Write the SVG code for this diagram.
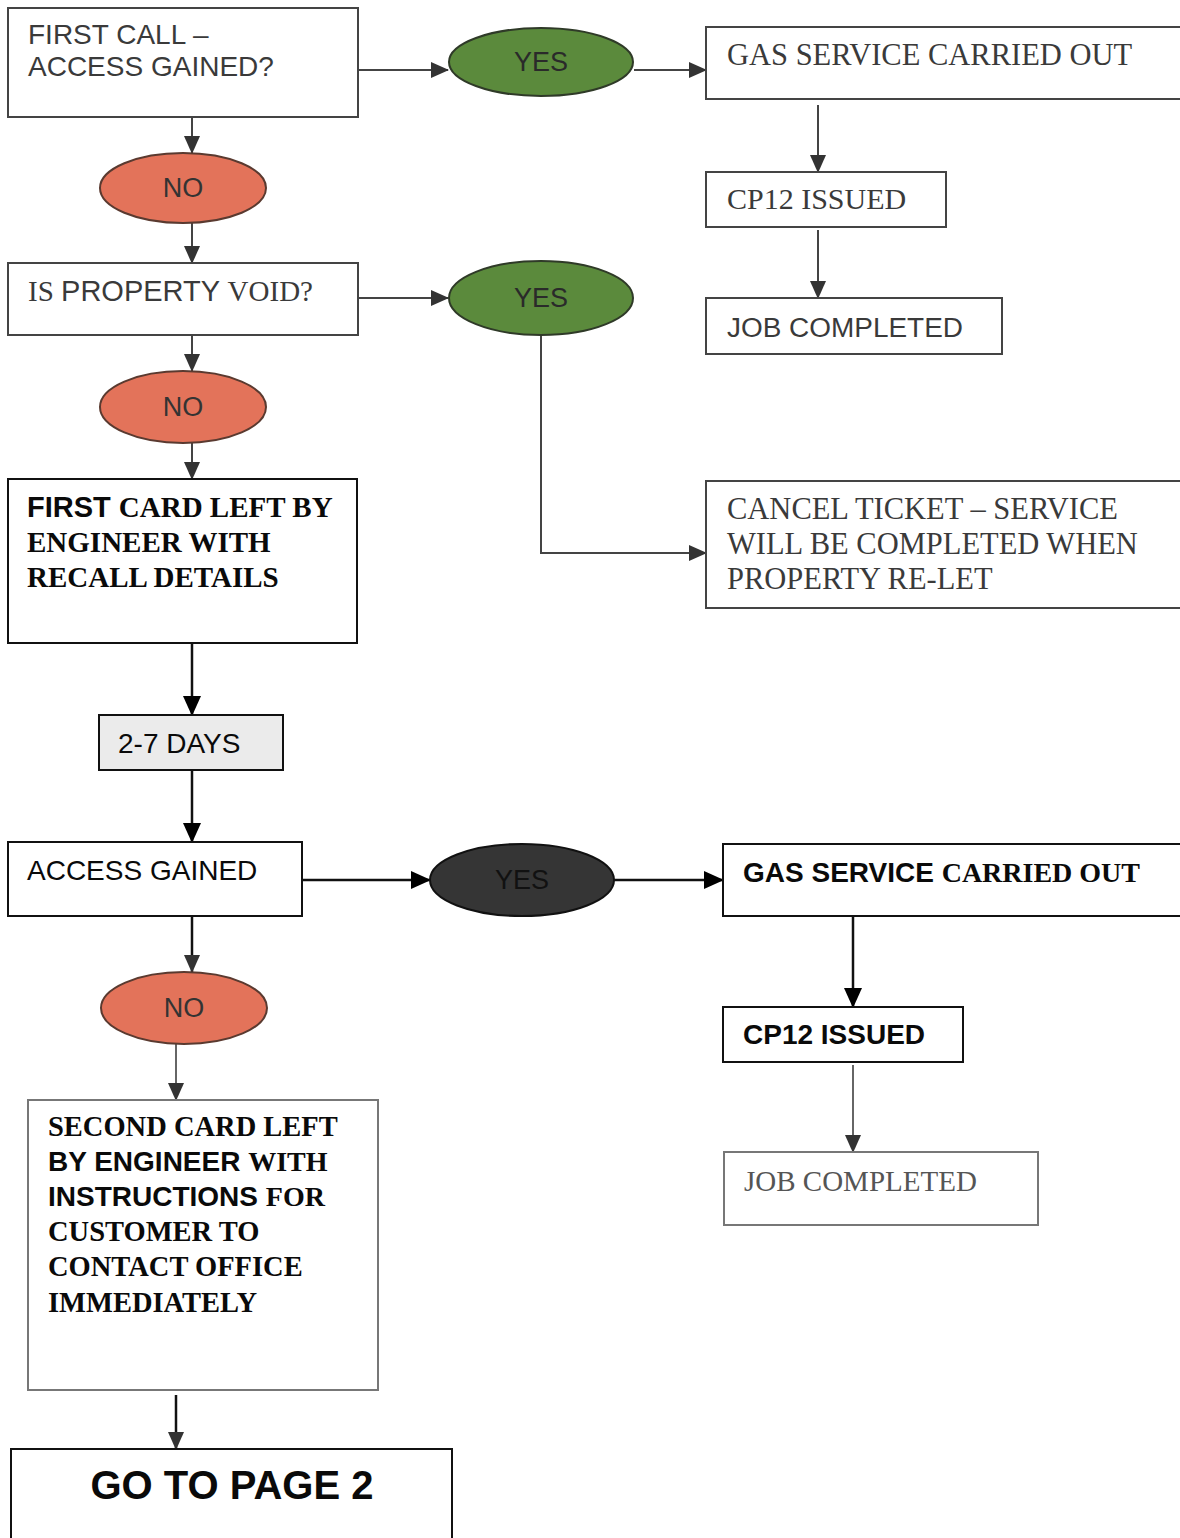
<svg xmlns="http://www.w3.org/2000/svg" width="1180" height="1538" viewBox="0 0 1180 1538">
<style>
.box{fill:#fff;stroke:#444;stroke-width:2}
.boxk{fill:#fff;stroke:#111;stroke-width:2}
.boxg{fill:#fff;stroke:#777;stroke-width:2}
.sans{font-family:"Liberation Sans",Arial,sans-serif}
.serif{font-family:"Liberation Serif","Times New Roman",serif}
.g{fill:#3a3a3a}
.k{fill:#0a0a0a}
.b{font-weight:bold}
.yes{fill:#5b8a3c;stroke:#2f3a28;stroke-width:2}
.no{fill:#e3735a;stroke:#5a3a30;stroke-width:2}
.dark{fill:#353535;stroke:#111;stroke-width:2}
.c{fill:none;stroke:#444;stroke-width:2}
.ck{fill:none;stroke:#111;stroke-width:2.5}
.cg{fill:none;stroke:#666;stroke-width:2}
</style>
<defs>
<marker id="ah" markerWidth="18" markerHeight="16" refX="17" refY="8" orient="auto" markerUnits="userSpaceOnUse">
<path d="M0,0 L18,8 L0,16 Z" fill="#333"/>
</marker>
<marker id="ahk" markerWidth="20" markerHeight="18" refX="19" refY="9" orient="auto" markerUnits="userSpaceOnUse">
<path d="M0,0 L20,9 L0,18 Z" fill="#000"/>
</marker>
</defs>
<rect width="1180" height="1538" fill="#fff"/>

<g id="connectors">
<line class="c" x1="358" y1="70" x2="448" y2="70" marker-end="url(#ah)"/>
<line class="c" x1="634" y1="70" x2="706" y2="70" marker-end="url(#ah)"/>
<line class="c" x1="818" y1="105" x2="818" y2="172" marker-end="url(#ah)"/>
<line class="c" x1="818" y1="230" x2="818" y2="298" marker-end="url(#ah)"/>
<line class="c" x1="192" y1="117" x2="192" y2="153" marker-end="url(#ah)"/>
<line class="c" x1="192" y1="223" x2="192" y2="263" marker-end="url(#ah)"/>
<line class="c" x1="358" y1="298" x2="448" y2="298" marker-end="url(#ah)"/>
<polyline class="c" points="541,335 541,553 706,553" marker-end="url(#ah)"/>
<line class="c" x1="192" y1="335" x2="192" y2="371" marker-end="url(#ah)"/>
<line class="c" x1="192" y1="443" x2="192" y2="479" marker-end="url(#ah)"/>
<line class="ck" x1="192" y1="643" x2="192" y2="715" marker-end="url(#ahk)"/>
<line class="ck" x1="192" y1="770" x2="192" y2="842" marker-end="url(#ahk)"/>
<line class="ck" x1="302" y1="880" x2="430" y2="880" marker-end="url(#ahk)"/>
<line class="ck" x1="614" y1="880" x2="723" y2="880" marker-end="url(#ahk)"/>
<line class="ck" x1="853" y1="916" x2="853" y2="1007" marker-end="url(#ahk)"/>
<line class="cg" x1="853" y1="1065" x2="853" y2="1152" marker-end="url(#ah)"/>
<line class="ck" x1="192" y1="916" x2="192" y2="972" marker-end="url(#ah)"/>
<line class="cg" x1="176" y1="1044" x2="176" y2="1100" marker-end="url(#ah)"/>
<line class="ck" x1="176" y1="1395" x2="176" y2="1449" marker-end="url(#ah)"/>
</g>

<g id="first-call">
<rect class="box" x="8" y="8" width="350" height="109"/>
<text class="sans g" font-size="28" x="28" y="44">FIRST CALL –</text>
<text class="sans g" font-size="28" x="28" y="76">ACCESS GAINED?</text>
</g>
<g id="yes1">
<ellipse class="yes" cx="541" cy="62" rx="92" ry="34"/>
<text class="sans" fill="#2a2a2a" font-size="27" x="541" y="71" text-anchor="middle">YES</text>
</g>
<g id="gas1">
<rect class="box" x="706" y="27" width="480" height="72"/>
<text class="serif g" font-size="30.5" x="727" y="65">GAS SERVICE CARRIED OUT</text>
</g>
<g id="cp12-1">
<rect class="box" x="706" y="172" width="240" height="55"/>
<text class="serif g" font-size="30" x="727" y="209">CP12 ISSUED</text>
</g>
<g id="job1">
<rect class="box" x="706" y="298" width="296" height="56"/>
<text class="sans g" font-size="27" x="727" y="337" textLength="236" lengthAdjust="spacingAndGlyphs">JOB COMPLETED</text>
</g>
<g id="no1">
<ellipse class="no" cx="183" cy="188" rx="83" ry="35"/>
<text class="sans" fill="#333" font-size="27" x="183" y="197" text-anchor="middle">NO</text>
</g>
<g id="void">
<rect class="box" x="8" y="263" width="350" height="72"/>
<text class="g" font-size="29" x="28" y="301"><tspan class="serif">IS </tspan><tspan class="sans">PROPERTY </tspan><tspan class="serif">VOID?</tspan></text>
</g>
<g id="yes2">
<ellipse class="yes" cx="541" cy="298" rx="92" ry="37"/>
<text class="sans" fill="#2a2a2a" font-size="27" x="541" y="307" text-anchor="middle">YES</text>
</g>
<g id="cancel">
<rect class="box" x="706" y="481" width="480" height="127"/>
<text class="serif g" font-size="30.5" x="727" y="519">CANCEL TICKET – SERVICE</text>
<text class="serif g" font-size="30.5" x="727" y="554">WILL BE COMPLETED WHEN</text>
<text class="serif g" font-size="30.5" x="727" y="589">PROPERTY RE-LET</text>
</g>
<g id="no2">
<ellipse class="no" cx="183" cy="407" rx="83" ry="36"/>
<text class="sans" fill="#333" font-size="27" x="183" y="416" text-anchor="middle">NO</text>
</g>
<g id="first-card">
<rect class="boxk" x="8" y="479" width="349" height="164"/>
<text class="k b" font-size="29" x="27" y="517"><tspan class="sans">FIRST </tspan><tspan class="serif">CARD LEFT BY</tspan></text>
<text class="serif k b" font-size="29" x="27" y="552">ENGINEER WITH</text>
<text class="serif k b" font-size="29" x="27" y="587">RECALL DETAILS</text>
</g>
<g id="days">
<rect x="99" y="715" width="184" height="55" fill="#ebebeb" stroke="#111" stroke-width="2"/>
<text class="sans k" font-size="28" x="118" y="753">2-7 DAYS</text>
</g>
<g id="access">
<rect class="boxk" x="8" y="842" width="294" height="74"/>
<text class="sans k" font-size="28" x="27" y="880">ACCESS GAINED</text>
</g>
<g id="yes3">
<ellipse class="dark" cx="522" cy="880" rx="92" ry="36"/>
<text class="sans" fill="#111" font-size="27" x="522" y="889" text-anchor="middle">YES</text>
</g>
<g id="gas2">
<rect class="boxk" x="723" y="844" width="465" height="72"/>
<text class="k b" font-size="28" x="743" y="882"><tspan class="sans">GAS SERVICE </tspan><tspan class="serif">CARRIED OUT</tspan></text>
</g>
<g id="cp12-2">
<rect class="boxk" x="723" y="1007" width="240" height="55"/>
<text class="sans k b" font-size="28" x="743" y="1044">CP12 ISSUED</text>
</g>
<g id="job2">
<rect class="boxg" x="724" y="1152" width="314" height="73"/>
<text class="serif" fill="#555" font-size="29" x="744" y="1191">JOB COMPLETED</text>
</g>
<g id="no3">
<ellipse class="no" cx="184" cy="1008" rx="83" ry="36"/>
<text class="sans" fill="#333" font-size="27" x="184" y="1017" text-anchor="middle">NO</text>
</g>
<g id="second-card">
<rect class="boxg" x="28" y="1100" width="350" height="290"/>
<text class="serif k b" font-size="28.5" x="48" y="1136">SECOND CARD LEFT</text>
<text class="k b" font-size="28" x="48" y="1171"><tspan class="sans">BY ENGINEER </tspan><tspan class="serif">WITH</tspan></text>
<text class="k b" font-size="28" x="48" y="1206"><tspan class="sans">INSTRUCTIONS </tspan><tspan class="serif">FOR</tspan></text>
<text class="serif k b" font-size="28.5" x="48" y="1241">CUSTOMER TO</text>
<text class="serif k b" font-size="28.5" x="48" y="1276">CONTACT OFFICE</text>
<text class="serif k b" font-size="28.5" x="48" y="1312">IMMEDIATELY</text>
</g>
<g id="page2">
<rect class="boxk" x="11" y="1449" width="441" height="100"/>
<text class="sans k b" font-size="40" x="232" y="1499" text-anchor="middle">GO TO PAGE 2</text>
</g>
</svg>
